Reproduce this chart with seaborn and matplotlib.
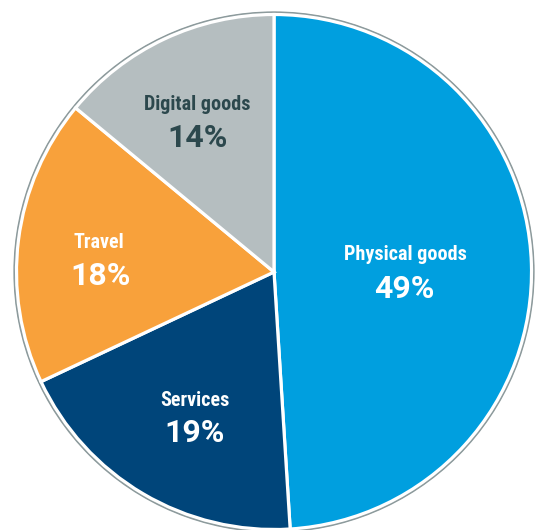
import matplotlib
matplotlib.use("Agg")
import matplotlib.pyplot as plt
from matplotlib import font_manager
from matplotlib.font_manager import FontProperties
from matplotlib.patches import Circle
import seaborn as sns

# Share of spending by category
categories = ["Physical goods", "Services", "Travel", "Digital goods"]
shares = [49, 19, 18, 14]
pct_labels = ["49%", "19%", "18%", "14%"]

colors = ["#009fdf", "#00457a", "#f8a13b", "#b5bec0"]
text_colors = ["white", "white", "white", "#2c484d"]

sns.set_theme(style="white")
plt.rcParams["font.family"] = ["DejaVu Sans"]


def bold_narrow_face():
    """Return the file of a bold narrow/condensed sans face, if installed."""
    fonts = font_manager.fontManager.ttflist

    def is_bold(f):
        w = f.weight
        return (w >= 600) if isinstance(w, int) else ("bold" in str(w).lower())

    for pref in ("Liberation Sans Narrow", "Roboto Condensed", "Open Sans Condensed"):
        for f in fonts:
            if f.name == pref and is_bold(f) and f.style == "normal":
                return f.fname
    for f in fonts:
        narrowish = ("Narrow" in f.name or "Condensed" in f.name
                     or f.stretch in ("condensed", "semi-condensed"))
        if narrowish and is_bold(f) and f.style == "normal":
            return f.fname
    return None


face = bold_narrow_face()


def label_props(size):
    if face:
        return FontProperties(fname=face, size=size)
    return FontProperties(family="DejaVu Sans", weight="bold", size=size * 0.85)


def pct_props(size):
    return FontProperties(family=["Roboto", "DejaVu Sans"], weight="bold", size=size)


W, H = 535, 530
fig = plt.figure(figsize=(W / 100, H / 100), dpi=100)
ax = fig.add_axes([0, 0, 1, 1])

cx, cy = 274, H - 272
radius = 257.5
explode = [0.0155, 0, 0, 0]

# Outer ring around the pie
ax.add_patch(Circle((cx, cy), 260, fill=False, edgecolor="#8c9a9c", lw=0.9, zorder=0))

# Draw twice: grey outline, then a white gap on top of it
for ec, lw in [("#8c9a9c", 3.7), ("white", 2.3)]:
    ax.pie(shares, colors=colors, startangle=90, counterclock=False,
           center=(cx, cy), radius=radius, explode=explode, frame=True,
           wedgeprops=dict(edgecolor=ec, linewidth=lw))

ax.set_xlim(0, W)
ax.set_ylim(0, H)
ax.set_aspect("equal")
ax.axis("off")

# Text centres (pixel coordinates from top-left) for each slice's label group
label_pos = [(405, 255), (195, 400), (99, 243), (197, 105)]
pct_pos = [(404, 289), (195, 433), (101, 276), (198, 138)]

for i, cat in enumerate(categories):
    lx, ly = label_pos[i]
    px, py = pct_pos[i]
    ax.text(lx, H - ly, cat, ha="center", va="center",
            fontproperties=label_props(14.5), color=text_colors[i])
    ax.text(px, H - py, pct_labels[i], ha="center", va="center",
            fontproperties=pct_props(23), color=text_colors[i])

fig.savefig("out.png", dpi=100)
